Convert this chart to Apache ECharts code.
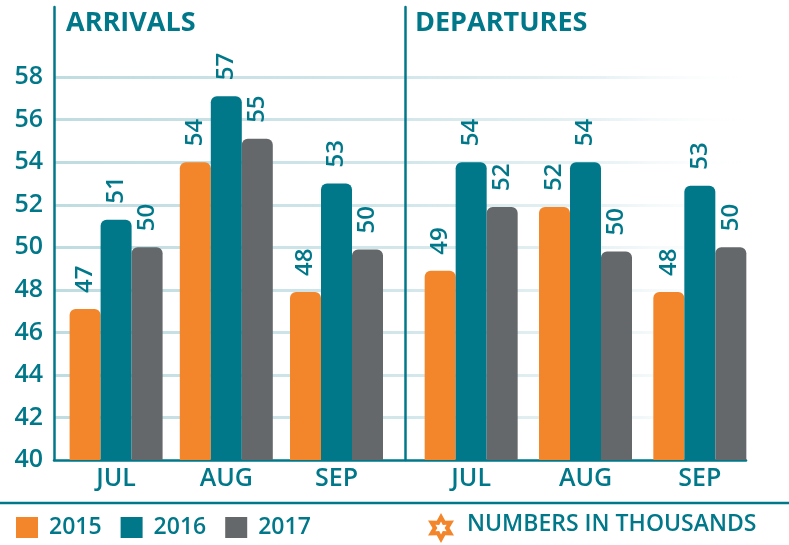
<!DOCTYPE html>
<html>
<head>
<meta charset="utf-8">
<script src="https://cdn.jsdelivr.net/npm/echarts@6/dist/echarts.min.js"></script>
<style>
  html, body { margin: 0; padding: 0; background: #fff; }
  #main { width: 789px; height: 545px; }
</style>
</head>
<body>
<div id="main"></div>
<script>
// data
var months = ['JUL', 'AUG', 'SEP'];
var years = ['2015', '2016', '2017'];
var arrivals2015 = [47.1, 54.0, 47.9];
var arrivals2016 = [51.3, 57.1, 53.0];
var arrivals2017 = [50.0, 55.1, 49.9];
var departures2015 = [48.9, 51.9, 47.9];
var departures2016 = [54.0, 54.0, 52.9];
var departures2017 = [51.9, 49.8, 50.0];
var yTicks = [40, 42, 44, 46, 48, 50, 52, 54, 56, 58];

var teal = '#00788a';
var orange = '#f3852a';
var gray = '#65686b';
var font = 'Open Sans';
var yMin = yTicks[0];
var yStep = yTicks[1] - yTicks[0];
var yMax = 61.3;

var chartDom = document.getElementById('main');
var myChart = echarts.init(chartDom);

// grid lines fade out toward the right
var gridGrad = new echarts.graphic.LinearGradient(54, 0, 760, 0, [
    { offset: 0, color: '#bfdce1' },
    { offset: 0.5, color: '#d3e7ea' },
    { offset: 0.78, color: '#e8f2f4' },
    { offset: 1, color: 'rgba(255,255,255,0)' }
], true);
var splitColors = ['transparent'];
yTicks.slice(1).forEach(function () { splitColors.push(gridGrad); });
splitColors.push('transparent', 'transparent');

function barSeries(name, data, idx, color) {
    return {
        name: name,
        type: 'bar',
        xAxisIndex: idx,
        yAxisIndex: idx,
        data: data,
        barWidth: 31,
        barGap: '0%',
        itemStyle: { color: color, borderRadius: [6, 6, 0, 0] },
        label: {
            show: true,
            position: 'top',
            rotate: 90,
            align: 'left',
            verticalAlign: 'middle',
            distance: 16,
            color: teal,
            fontSize: 24,
            fontWeight: 600,
            fontFamily: font,
            formatter: function (p) { return Math.round(p.value); }
        }
    };
}

var catAxis = function (idx) {
    return {
        gridIndex: idx,
        type: 'category',
        data: months,
        axisLine: { show: false },
        axisTick: { show: false },
        axisLabel: { color: teal, fontSize: 25, fontWeight: 600, fontFamily: font, margin: 6 }
    };
};

// small star icon next to the note
function starPoints(cx, cy, ro, ri) {
    var pts = [];
    for (var i = 0; i < 12; i++) {
        var a = Math.PI / 6 * i - Math.PI / 2;
        var r = i % 2 ? ri : ro;
        pts.push([cx + r * Math.cos(a), cy + r * Math.sin(a)]);
    }
    return pts;
}

var option = {
    animation: false,
    color: [orange, teal, gray],
    grid: [
        { left: 54, width: 692, top: 7, height: 453 },
        { left: 61, width: 330.6, top: 7, height: 453 },
        { left: 414, width: 343, top: 7, height: 453 }
    ],
    xAxis: [
        {
            gridIndex: 0, type: 'value', min: 0, max: 1,
            axisLine: { show: true, lineStyle: { color: teal, width: 2.5 } },
            axisTick: { show: false }, axisLabel: { show: false }, splitLine: { show: false }
        },
        catAxis(1),
        catAxis(2)
    ],
    yAxis: [
        {
            gridIndex: 0, type: 'value', min: yMin, max: yMax, interval: yStep,
            axisLine: { show: true, onZero: false, lineStyle: { color: teal, width: 2.5 } },
            axisTick: { show: false },
            axisLabel: {
                color: teal, fontSize: 25, fontWeight: 600, fontFamily: font, margin: 11,
                formatter: function (v) { return yTicks.indexOf(v) >= 0 ? v : ''; }
            },
            splitLine: { show: true, lineStyle: { color: splitColors, width: 3 } }
        },
        { gridIndex: 1, type: 'value', min: yMin, max: yMax, show: false },
        {
            gridIndex: 2, type: 'value', min: yMin, max: yMax, offset: 9,
            axisLine: { show: true, lineStyle: { color: teal, width: 2.5 } },
            axisTick: { show: false }, axisLabel: { show: false }, splitLine: { show: false }
        }
    ],
    legend: {
        data: years,
        left: 11,
        top: 511,
        icon: 'rect',
        itemWidth: 22,
        itemHeight: 21,
        itemGap: 19,
        textStyle: { color: teal, fontSize: 23, fontWeight: 600, fontFamily: font, padding: [0, 0, 0, 6] }
    },
    series: [
        barSeries(years[0], arrivals2015, 1, orange),
        barSeries(years[1], arrivals2016, 1, teal),
        barSeries(years[2], arrivals2017, 1, gray),
        barSeries(years[0], departures2015, 2, orange),
        barSeries(years[1], departures2016, 2, teal),
        barSeries(years[2], departures2017, 2, gray)
    ],
    graphic: [
        { type: 'text', left: 66, top: 10, style: { text: 'ARRIVALS', fill: teal, font: 'bold 27px "Open Sans"' } },
        { type: 'text', left: 415, top: 10, style: { text: 'DEPARTURES', fill: teal, font: 'bold 27px "Open Sans"' } },
        { type: 'line', shape: { x1: 0, y1: 503, x2: 789, y2: 503 }, style: { stroke: teal, lineWidth: 2.5 } },
        { type: 'polygon', shape: { points: starPoints(441, 528, 15, 8.5) }, style: { fill: orange } },
        { type: 'polygon', shape: { points: starPoints(441, 528, 6.5, 3.6) }, style: { fill: '#fff' } },
        { type: 'text', left: 467, top: 513, style: { text: 'NUMBERS IN THOUSANDS', fill: teal, font: '600 23px "Open Sans"' } }
    ]
};

option && myChart.setOption(option);
</script>
</body>
</html>
